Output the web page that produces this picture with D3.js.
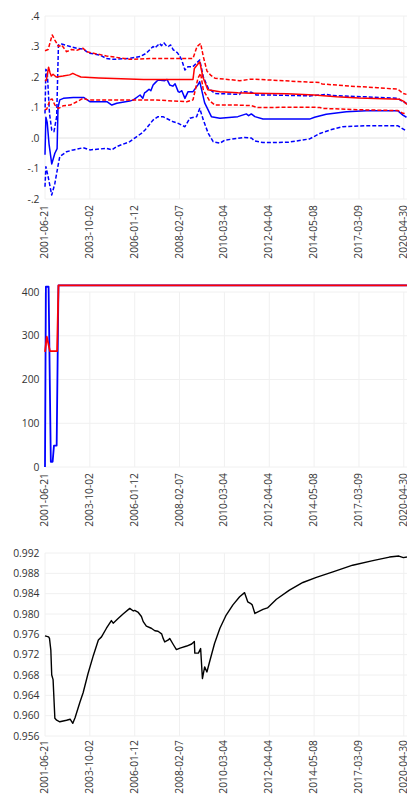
<!DOCTYPE html>
<html><head><meta charset="utf-8">
<script src="https://cdn.jsdelivr.net/npm/d3@7"></script>
<style>body{margin:0;background:#fff}svg{display:block}</style>
</head><body>
<svg id="c" width="407" height="805"></svg>
<script>
// ---- data ----
const xTickIdx = [0,100,200,300,400,500,600,700,800];
const xTickLabels = ["2001-06-21","2003-10-02","2006-01-12","2008-02-07","2010-03-04","2012-04-04","2014-05-08","2017-03-09","2020-04-30"];

const topYTicks = [0.4,0.3,0.2,0.1,0.0,-0.1,-0.2];
const topYLabels = [".4",".3",".2",".1",".0","-.1","-.2"];

// [observation index, value]
const redSolid = [[0,0.187],[3,0.19],[5,0.205],[8,0.232],[11,0.215],[14,0.203],[18,0.209],[25,0.2],[40,0.203],[55,0.207],[62,0.212],[69,0.207],[80,0.2],[120,0.197],[170,0.194],[220,0.192],[330,0.192],[333,0.228],[345,0.25],[352,0.2],[363,0.158],[390,0.152],[430,0.148],[460,0.147],[500,0.146],[540,0.145],[600,0.141],[650,0.135],[700,0.131],[790,0.127],[800,0.12],[807,0.11]];
const redUpper = [[0,0.286],[7,0.29],[16,0.338],[22,0.321],[30,0.3],[37,0.305],[48,0.283],[59,0.29],[71,0.288],[85,0.294],[93,0.283],[108,0.278],[137,0.269],[189,0.258],[241,0.261],[330,0.261],[339,0.3],[347,0.31],[353,0.267],[361,0.22],[370,0.205],[379,0.196],[434,0.188],[460,0.193],[504,0.19],[590,0.183],[613,0.182],[618,0.177],[682,0.17],[741,0.165],[787,0.16],[798,0.146],[806,0.143]];
const redLower = [[0,0.092],[4,0.095],[11,0.125],[16,0.128],[22,0.108],[30,0.097],[41,0.106],[56,0.108],[71,0.119],[85,0.13],[96,0.125],[189,0.125],[241,0.125],[316,0.119],[330,0.125],[341,0.196],[347,0.212],[353,0.157],[367,0.122],[379,0.108],[430,0.108],[460,0.106],[474,0.1],[590,0.101],[613,0.1],[620,0.097],[716,0.092],[787,0.09],[798,0.081],[806,0.079]];
const blueSolid = [[0,-0.055],[2,0.068],[5,0.05],[9,-0.02],[15,-0.085],[22,-0.05],[27,-0.035],[29,0.1],[33,0.125],[41,0.13],[63,0.133],[86,0.133],[100,0.119],[138,0.119],[149,0.108],[160,0.114],[189,0.121],[197,0.125],[212,0.141],[218,0.13],[222,0.148],[226,0.152],[232,0.16],[236,0.155],[241,0.174],[245,0.18],[252,0.19],[267,0.188],[272,0.192],[278,0.174],[285,0.17],[290,0.178],[297,0.152],[300,0.15],[305,0.155],[312,0.13],[319,0.152],[330,0.152],[341,0.174],[345,0.185],[356,0.115],[371,0.07],[390,0.065],[430,0.07],[449,0.079],[454,0.073],[460,0.079],[468,0.07],[486,0.062],[590,0.062],[601,0.068],[627,0.078],[672,0.086],[716,0.089],[787,0.089],[798,0.075],[806,0.068]];
const blueUpper = [[0,0.08],[2,0.225],[5,0.218],[10,0.081],[15,0.026],[20,0.021],[26,0.07],[30,0.305],[37,0.308],[56,0.3],[71,0.294],[85,0.292],[93,0.283],[100,0.278],[122,0.272],[137,0.261],[152,0.258],[189,0.261],[212,0.267],[226,0.278],[241,0.3],[245,0.295],[252,0.305],[255,0.31],[260,0.303],[265,0.312],[272,0.3],[275,0.3],[280,0.305],[286,0.289],[295,0.28],[301,0.267],[305,0.255],[312,0.223],[319,0.234],[330,0.234],[345,0.256],[353,0.2],[364,0.163],[379,0.146],[434,0.143],[438,0.152],[460,0.15],[471,0.141],[505,0.141],[590,0.138],[613,0.141],[627,0.143],[641,0.139],[716,0.135],[787,0.13],[798,0.119],[806,0.114]];
const blueLower = [[0,-0.16],[2,-0.094],[7,-0.127],[15,-0.187],[22,-0.149],[30,-0.083],[33,-0.061],[48,-0.045],[63,-0.039],[85,-0.032],[100,-0.039],[137,-0.034],[149,-0.039],[160,-0.028],[189,-0.012],[204,0.004],[215,0.015],[223,0.026],[241,0.059],[252,0.07],[263,0.07],[286,0.053],[297,0.048],[312,0.037],[323,0.065],[338,0.07],[345,0.097],[353,0.059],[364,0.015],[375,-0.012],[390,-0.017],[401,-0.007],[445,0.002],[460,0.0],[468,-0.01],[486,-0.015],[542,-0.014],[590,-0.003],[613,0.015],[635,0.026],[664,0.037],[716,0.04],[787,0.04],[798,0.03],[806,0.023]];

const midYTicks = [0,100,200,300,400];
const midBlue = [[0,0],[2,412],[8,412],[13,12],[17,12],[20,49],[26,49],[30,415],[807,415]];
const midRed = [[0,263],[4,298],[11,265],[27,265],[30,415],[807,415]];

const botYTicks = [0.992,0.988,0.984,0.980,0.976,0.972,0.968,0.964,0.960,0.956];
const botLine = [[0,0.9757],[8,0.9755],[10,0.9752],[13,0.9729],[15,0.968],[18,0.9671],[22,0.9595],[26,0.9591],[33,0.9588],[48,0.9591],[56,0.9593],[62,0.9585],[67,0.9596],[78,0.9627],[85,0.9645],[96,0.9683],[108,0.9719],[119,0.9749],[126,0.9755],[137,0.9772],[148,0.9787],[152,0.9782],[163,0.9791],[174,0.98],[189,0.9811],[197,0.9806],[200,0.9807],[208,0.9803],[215,0.9795],[219,0.9785],[226,0.9776],[237,0.9772],[245,0.9767],[252,0.9766],[260,0.9761],[263,0.9753],[267,0.9745],[275,0.9749],[278,0.9752],[286,0.974],[293,0.973],[301,0.9733],[316,0.9737],[327,0.9741],[333,0.9746],[334,0.9723],[342,0.9723],[347,0.9732],[351,0.9673],[356,0.9696],[361,0.9686],[367,0.9706],[378,0.9742],[390,0.9772],[404,0.9798],[419,0.9818],[434,0.9834],[445,0.9842],[452,0.9824],[458,0.9821],[462,0.9818],[468,0.9801],[486,0.9809],[496,0.9812],[516,0.9829],[545,0.9847],[575,0.9862],[605,0.9872],[642,0.9883],[686,0.9896],[731,0.9905],[768,0.9912],[789,0.9914],[799,0.9911],[807,0.9912]];

// ---- drawing ----
const svg = d3.select("#c");
const font = "'Open Sans', sans-serif";
const x = d3.scaleLinear().domain([0,800]).range([45,403.8]);

function panel(cfg){
  const y = d3.scaleLinear().domain(cfg.domain).range([cfg.bottom, cfg.top]);
  const g = svg.append("g");
  g.selectAll(".hg").data(cfg.yTicks).enter().append("line")
    .attr("x1",45).attr("x2",407).attr("y1",d=>y(d)).attr("y2",d=>y(d))
    .attr("stroke", d=> d===0 && cfg.zero ? "#e2e2e2" : "#f0f0f0").attr("stroke-width",1);
  g.selectAll(".vg").data(xTickIdx).enter().append("line")
    .attr("x1",d=>x(d)).attr("x2",d=>x(d)).attr("y1",cfg.top).attr("y2",cfg.bottom)
    .attr("stroke","#f0f0f0").attr("stroke-width",1);
  g.selectAll(".yl").data(cfg.yTicks).enter().append("text")
    .attr("x",39.5).attr("y",d=>y(d)).attr("dy","0.35em")
    .attr("text-anchor","end").attr("font-family",font).attr("font-size",10.3).attr("fill","#333")
    .text((d,i)=>cfg.yLabels[i]);
  g.selectAll(".xl").data(xTickIdx).enter().append("text")
    .attr("transform",d=>`translate(${x(d)},${cfg.xLabelTop}) rotate(-90)`)
    .attr("text-anchor","end").attr("dy","0.3em")
    .attr("font-family",font).attr("font-size",10.3).attr("fill","#333")
    .text((d,i)=>xTickLabels[i]);
  const line = d3.line().x(d=>x(d[0])).y(d=>y(d[1]));
  cfg.series.forEach(s=>{
    g.append("path").datum(s.data).attr("d",line).attr("fill","none")
      .attr("stroke",s.color).attr("stroke-width",s.w||1.5)
      .attr("stroke-dasharray",s.dash||null).attr("stroke-linejoin","round");
  });
}

panel({domain:[-0.2,0.4], top:16, bottom:199, yTicks:topYTicks, yLabels:topYLabels, xLabelTop:205, zero:true,
  series:[
    {data:blueUpper,color:"#0000ff",dash:"4,2"},
    {data:blueLower,color:"#0000ff",dash:"4,2"},
    {data:blueSolid,color:"#0000ff"},
    {data:redUpper,color:"#ff0000",dash:"4,2"},
    {data:redLower,color:"#ff0000",dash:"4,2"},
    {data:redSolid,color:"#ff0000"}
  ]});

panel({domain:[0,400], top:292, bottom:467, yTicks:midYTicks, yLabels:midYTicks.map(String), xLabelTop:473,
  series:[
    {data:midBlue,color:"#0000ff",w:1.8},
    {data:midRed,color:"#ff0000",w:1.8}
  ]});

panel({domain:[0.956,0.992], top:553, bottom:736, yTicks:botYTicks, yLabels:botYTicks.map(d=>d3.format(".3f")(d)), xLabelTop:740,
  series:[
    {data:botLine,color:"#000000",w:1.4}
  ]});
</script>
</body></html>
